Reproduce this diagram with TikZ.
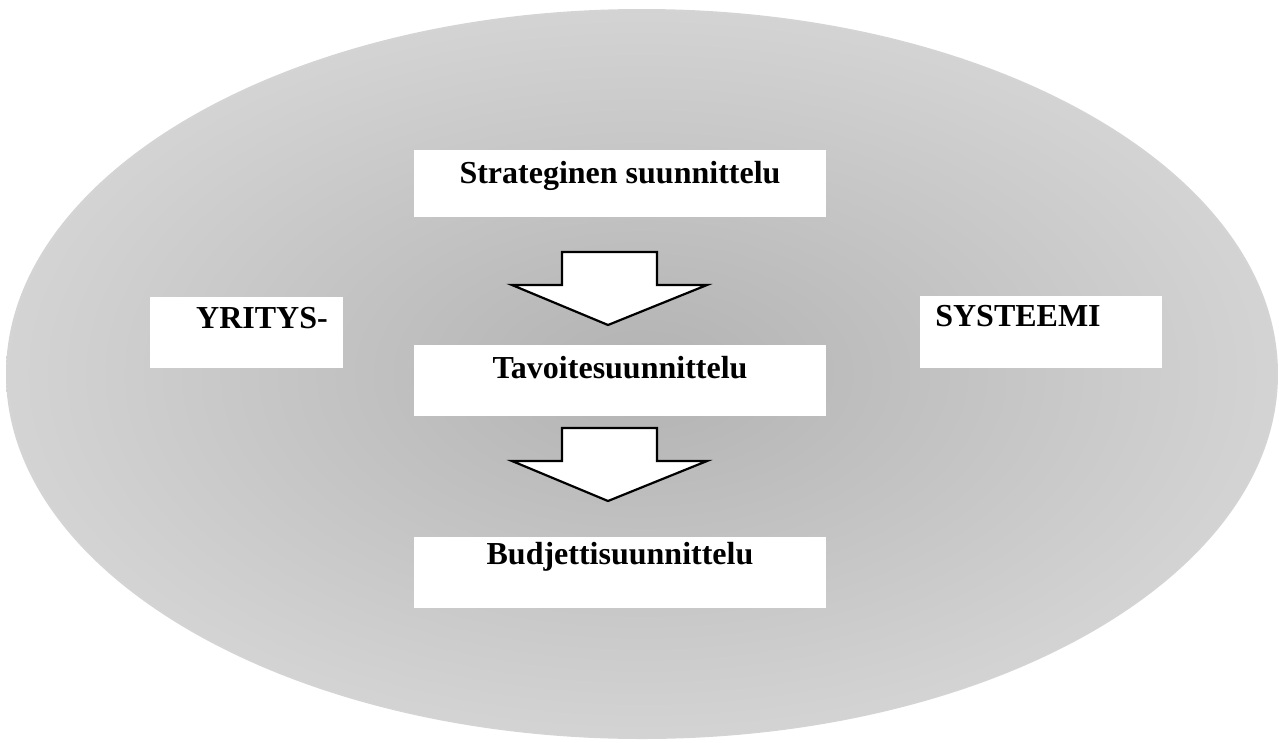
\documentclass[tikz,border=0pt]{standalone}
\usepackage{fontspec}
\setmainfont{Liberation Serif}
\begin{document}
\begin{tikzpicture}[x=1pt,y=-1pt,
  panel/.style={fill=white,draw=none,inner sep=0pt},
  label/.style={font=\bfseries\fontsize{32}{37}\selectfont,inner sep=0pt,anchor=center},
  blockarrow/.pic={
    \draw[fill=white,line width=2.2pt,line join=miter]
      (-48,0) -- (47,0) -- (47,33) -- (97,33) -- (-2,73) -- (-98,33) -- (-48,33) -- cycle;
  }]
  \useasboundingbox (0,0) rectangle (1279,742);
  % textured system background
  \shade[inner color=black!30,outer color=black!17]
    (642,374) ellipse [x radius=636,y radius=365];

  % planning levels
  \fill[panel] (414,150) rectangle (826,217);
  \node[label] (s) at (620,176) {Strateginen suunnittelu};
  \fill[panel] (414,345) rectangle (826,416);
  \node[label] (t) at (620,368) {Tavoitesuunnittelu};
  \fill[panel] (414,537) rectangle (826,608);
  \node[label] (b) at (620,557) {Budjettisuunnittelu};

  % side labels
  \fill[panel] (150,297) rectangle (343,368);
  \node[label] (y) at (262,318) {YRITYS-};
  \fill[panel] (920,296) rectangle (1162,368);
  \node[label] (m) at (1018,316) {SYSTEEMI};

  % flow between levels
  \coordinate (a1) at (610,252);
  \coordinate (a2) at (610,428);
  \pic at (a1) {blockarrow};
  \pic at (a2) {blockarrow};
\end{tikzpicture}
\end{document}
